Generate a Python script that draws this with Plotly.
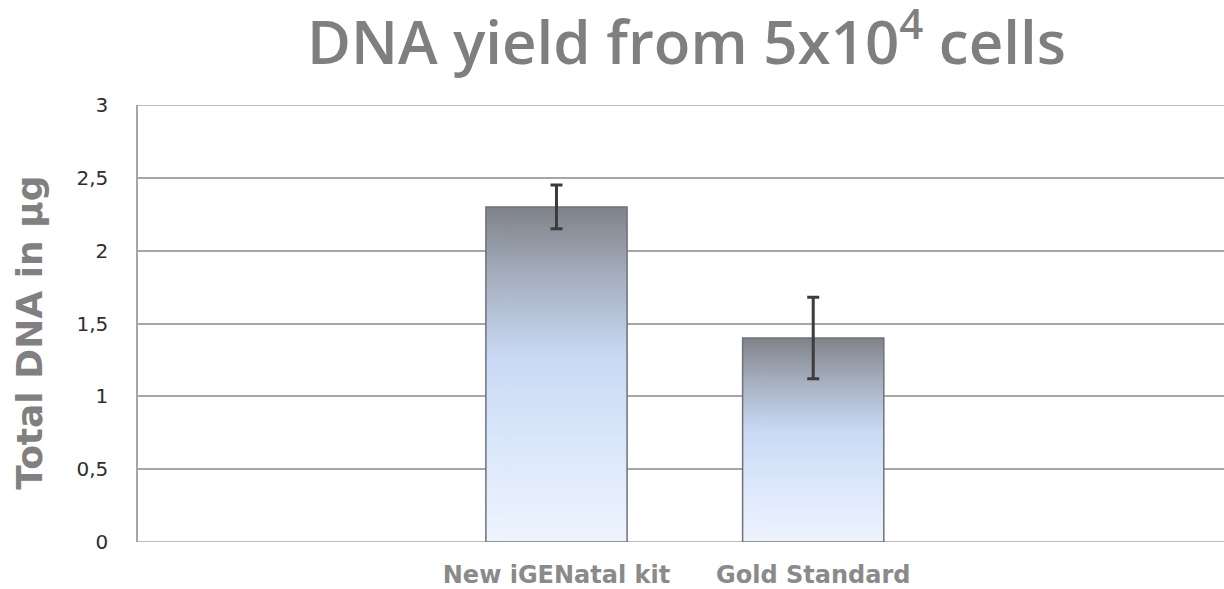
import plotly.graph_objects as go

categories = ["New iGENatal kit", "Gold Standard"]
values = [2.30, 1.40]
errors = [0.15, 0.28]
y_ticks = [0, 0.5, 1, 1.5, 2, 2.5, 3]

bar_w = 0.55
fig = go.Figure()

for i, v in enumerate(values):
    xs = [i - bar_w / 2, i - bar_w / 2, i + bar_w / 2, i + bar_w / 2, i - bar_w / 2]
    ys = [0, v, v, 0, 0]
    fig.add_trace(go.Scatter(
        x=xs, y=ys, mode="lines", fill="toself",
        line=dict(color="#6f7278", width=1.5),
        fillgradient=dict(type="vertical",
                          colorscale=[[0, "#eef4fe"], [0.3, "#dae6fa"], [0.55, "#c9d9f4"],
                                      [0.8, "#a4adbd"], [1, "#7f8288"]]),
        showlegend=False, hoverinfo="skip"))

fig.add_trace(go.Scatter(
    x=list(range(len(categories))), y=values, mode="markers",
    marker=dict(size=1, opacity=0),
    error_y=dict(type="data", array=errors, color="#3c3c3c", thickness=3, width=6),
    showlegend=False))

fig.update_layout(
    width=1224, height=589,
    margin=dict(l=138, r=0, t=105, b=47, autoexpand=False),
    paper_bgcolor="white", plot_bgcolor="white",
    separators=",.",
    title=dict(text="DNA yield from 5x10<sup>4</sup> cells",
               font=dict(family="Open Sans", size=60, color="#7f7f7f", weight=600),
               x=0.505, xanchor="center", xref="paper",
               y=1 - 43 / 589, yref="container", yanchor="middle", automargin=False),
    xaxis=dict(range=[-1.63, 2.60], tickvals=list(range(len(categories))), ticktext=categories,
               showgrid=False, zeroline=False, showline=False, ticks="", automargin=False,
               ticklabelstandoff=16,
               tickfont=dict(family="DejaVu Sans", size=24, color="#8a8a8a", weight="bold")),
    yaxis=dict(range=[0, 3], tickvals=y_ticks, showgrid=True, gridcolor="#a6a6a6", gridwidth=1.5,
               zeroline=False, showline=True, linecolor="#a6a6a6", linewidth=1.5,
               ticks="", ticklabelstandoff=24, automargin=False,
               tickfont=dict(family="DejaVu Sans", size=20, color="#2e2e2e")),
    annotations=[dict(text="Total DNA in µg", textangle=-90, xref="paper", yref="paper",
                      x=-0.1, y=0.48, xanchor="center", yanchor="middle", showarrow=False,
                      font=dict(family="DejaVu Sans", size=36, color="#808080", weight="bold"))],
)
fig.add_shape(type="line", xref="paper", yref="y", x0=0, x1=1, y0=0, y1=0,
              line=dict(color="#a6a6a6", width=1.5), layer="below")
fig.add_shape(type="line", xref="paper", yref="y", x0=0, x1=1, y0=3, y1=3,
              line=dict(color="#a6a6a6", width=1.5), layer="below")

fig.write_html("out.html", config={"displayModeBar": False},
               post_script="document.body.style.margin='0';")
